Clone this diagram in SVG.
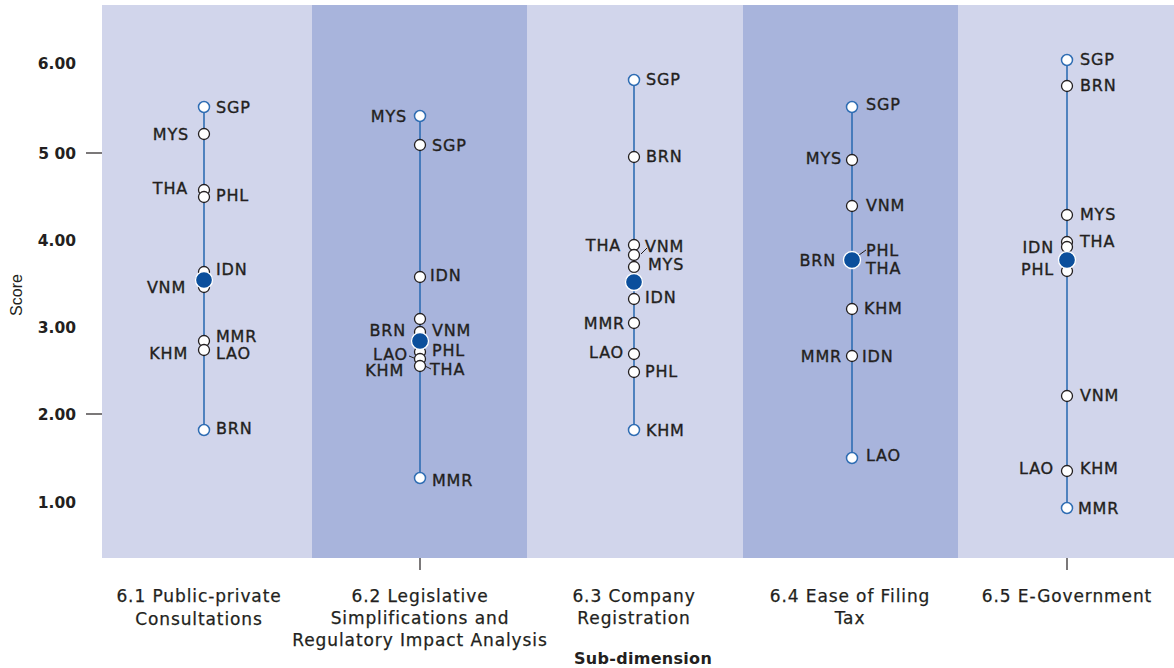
<svg xmlns="http://www.w3.org/2000/svg" width="1174" height="668" viewBox="0 0 1174 668">
<style>
.bgl{fill:#d1d5eb}
.bgd{fill:#a8b4dc}
.ax{font-family:"DejaVu Sans","Liberation Sans",sans-serif;font-size:15.5px;font-weight:700;fill:#231f20}
.lb{font-family:"DejaVu Sans","Liberation Sans",sans-serif;font-size:16px;letter-spacing:0.8px;fill:#231f20;stroke:#231f20;stroke-width:0.35}
.r{text-anchor:end}
.cat{font-family:"DejaVu Sans","Liberation Sans",sans-serif;font-size:17px;letter-spacing:0.9px;fill:#231f20;text-anchor:middle;stroke:#231f20;stroke-width:0.25}
.vl{stroke:#2f6db3;stroke-width:1.6;fill:none}
.pt{fill:#fff;stroke:#231f20;stroke-width:1.3}
.ep{fill:#fff;stroke:#2f6db3;stroke-width:1.5}
.mn{fill:#0b4f9c;stroke:#fff;stroke-width:1.3}
.tk{stroke:#231f20;stroke-width:1.2}
.ld{stroke:#231f20;stroke-width:1;fill:none}
</style>
<rect width="1174" height="668" fill="#fff"/>
<g id="bands">
<rect class="bgl" x="102" y="5" width="210" height="553"/>
<rect class="bgd" x="312" y="5" width="215" height="553"/>
<rect class="bgl" x="527" y="5" width="216" height="553"/>
<rect class="bgd" x="743" y="5" width="215" height="553"/>
<rect class="bgl" x="958" y="5" width="216" height="553"/>
</g>
<g id="axis">
<text class="ax r" x="76" y="69">6.00</text>
<text class="ax r" x="76" y="159">5 00</text>
<text class="ax r" x="76" y="246">4.00</text>
<text class="ax r" x="76" y="333">3.00</text>
<text class="ax r" x="76" y="420">2.00</text>
<text class="ax r" x="76" y="508">1.00</text>
<line class="tk" x1="86" y1="153" x2="102" y2="153"/>
<line class="tk" x1="86" y1="414" x2="102" y2="414"/>
<line class="tk" x1="420" y1="558" x2="420" y2="570"/>
<line class="tk" x1="1067" y1="558" x2="1067" y2="570"/>
<text x="0" y="0" transform="translate(22,295) rotate(-90)" text-anchor="middle" style="font-family:'Liberation Sans',sans-serif;font-size:16px;fill:#231f20">Score</text>
</g>
<g id="connectors">
<line class="vl" x1="204" y1="107" x2="204" y2="430"/>
<line class="vl" x1="420" y1="116" x2="420" y2="478"/>
<line class="vl" x1="634" y1="80" x2="634" y2="430"/>
<line class="vl" x1="852" y1="107" x2="852" y2="458"/>
<line class="vl" x1="1067" y1="60" x2="1067" y2="508"/>
<path class="ld" d="M409 356 L414 358 M425 366 L431 369"/>
<path class="ld" d="M641 254 L647 248"/>
<path class="ld" d="M859 255 L866 250"/>
</g>
<g id="col1">
<circle class="ep" cx="204" cy="107" r="5.5"/>
<circle class="pt" cx="204" cy="134" r="5.5"/>
<circle class="pt" cx="204" cy="190" r="5.5"/>
<circle class="pt" cx="204" cy="197" r="5.5"/>
<circle class="pt" cx="204" cy="272" r="5.5"/>
<circle class="pt" cx="204" cy="287" r="5.5"/>
<circle class="mn" cx="204" cy="280" r="8.5"/>
<circle class="pt" cx="204" cy="341" r="5.5"/>
<circle class="pt" cx="204" cy="350" r="5.5"/>
<circle class="ep" cx="204" cy="430" r="5.5"/>
<text class="lb" x="216" y="113">SGP</text>
<text class="lb r" x="189" y="140">MYS</text>
<text class="lb r" x="188" y="194">THA</text>
<text class="lb" x="216" y="201">PHL</text>
<text class="lb" x="216" y="275">IDN</text>
<text class="lb r" x="186" y="293">VNM</text>
<text class="lb" x="216" y="342">MMR</text>
<text class="lb r" x="188" y="359">KHM</text>
<text class="lb" x="216" y="359">LAO</text>
<text class="lb" x="216" y="434">BRN</text>
</g>
<g id="col2">
<circle class="ep" cx="420" cy="116" r="5.5"/>
<circle class="pt" cx="420" cy="145" r="5.5"/>
<circle class="pt" cx="420" cy="277" r="5.5"/>
<circle class="pt" cx="420" cy="319" r="5.5"/>
<circle class="pt" cx="420" cy="332" r="5.5"/>
<circle class="pt" cx="420" cy="352" r="5.5"/>
<circle class="pt" cx="420" cy="359" r="5.5"/>
<circle class="pt" cx="420" cy="366" r="5.5"/>
<circle class="mn" cx="420" cy="341" r="8.5"/>
<circle class="ep" cx="420" cy="478" r="5.5"/>
<text class="lb r" x="407" y="122">MYS</text>
<text class="lb" x="432" y="151">SGP</text>
<text class="lb" x="430" y="281">IDN</text>
<text class="lb r" x="406" y="336">BRN</text>
<text class="lb" x="432" y="336">VNM</text>
<text class="lb" x="432" y="356">PHL</text>
<text class="lb r" x="408" y="360">LAO</text>
<text class="lb r" x="404" y="376">KHM</text>
<text class="lb" x="430" y="375">THA</text>
<text class="lb" x="432" y="486">MMR</text>
</g>
<g id="col3">
<circle class="ep" cx="634" cy="80" r="5.5"/>
<circle class="pt" cx="634" cy="157" r="5.5"/>
<circle class="pt" cx="634" cy="245" r="5.5"/>
<circle class="pt" cx="634" cy="255" r="5.5"/>
<circle class="pt" cx="634" cy="267" r="5.5"/>
<circle class="mn" cx="634" cy="282" r="8.5"/>
<circle class="pt" cx="634" cy="299" r="5.5"/>
<circle class="pt" cx="634" cy="323" r="5.5"/>
<circle class="pt" cx="634" cy="354" r="5.5"/>
<circle class="pt" cx="634" cy="372" r="5.5"/>
<circle class="ep" cx="634" cy="430" r="5.5"/>
<text class="lb" x="646" y="85">SGP</text>
<text class="lb" x="646" y="162">BRN</text>
<text class="lb r" x="621" y="251">THA</text>
<text class="lb" x="645" y="252">VNM</text>
<text class="lb" x="648" y="270">MYS</text>
<text class="lb" x="645" y="303">IDN</text>
<text class="lb r" x="625" y="329">MMR</text>
<text class="lb r" x="624" y="358">LAO</text>
<text class="lb" x="645" y="377">PHL</text>
<text class="lb" x="646" y="436">KHM</text>
</g>
<g id="col4">
<circle class="ep" cx="852" cy="107" r="5.5"/>
<circle class="pt" cx="852" cy="160" r="5.5"/>
<circle class="pt" cx="852" cy="206" r="5.5"/>
<circle class="mn" cx="852" cy="260" r="8.5"/>
<circle class="pt" cx="852" cy="309" r="5.5"/>
<circle class="pt" cx="852" cy="356" r="5.5"/>
<circle class="ep" cx="852" cy="458" r="5.5"/>
<text class="lb" x="866" y="110">SGP</text>
<text class="lb r" x="842" y="164">MYS</text>
<text class="lb" x="866" y="211">VNM</text>
<text class="lb r" x="836" y="266">BRN</text>
<text class="lb" x="866" y="256">PHL</text>
<text class="lb" x="866" y="274">THA</text>
<text class="lb" x="864" y="314">KHM</text>
<text class="lb r" x="842" y="362">MMR</text>
<text class="lb" x="862" y="362">IDN</text>
<text class="lb" x="866" y="461">LAO</text>
</g>
<g id="col5">
<circle class="ep" cx="1067" cy="60" r="5.5"/>
<circle class="pt" cx="1067" cy="86" r="5.5"/>
<circle class="pt" cx="1067" cy="215" r="5.5"/>
<circle class="pt" cx="1067" cy="242" r="5.5"/>
<circle class="pt" cx="1067" cy="247" r="5.5"/>
<circle class="pt" cx="1067" cy="271" r="5.5"/>
<circle class="mn" cx="1067" cy="260" r="8.5"/>
<circle class="pt" cx="1067" cy="396" r="5.5"/>
<circle class="pt" cx="1067" cy="471" r="5.5"/>
<circle class="ep" cx="1067" cy="508" r="5.5"/>
<text class="lb" x="1080" y="65">SGP</text>
<text class="lb" x="1080" y="91">BRN</text>
<text class="lb" x="1080" y="220">MYS</text>
<text class="lb" x="1080" y="247">THA</text>
<text class="lb r" x="1054" y="253">IDN</text>
<text class="lb r" x="1054" y="275">PHL</text>
<text class="lb" x="1080" y="401">VNM</text>
<text class="lb r" x="1054" y="474">LAO</text>
<text class="lb" x="1080" y="474">KHM</text>
<text class="lb" x="1078" y="514">MMR</text>
</g>
<g id="categories">
<text class="cat" x="199" y="602">6.1 Public-private</text>
<text class="cat" x="199" y="625">Consultations</text>
<text class="cat" x="420" y="602">6.2 Legislative</text>
<text class="cat" x="420" y="624">Simplifications and</text>
<text class="cat" x="420" y="646">Regulatory Impact Analysis</text>
<text class="cat" x="634" y="602">6.3 Company</text>
<text class="cat" x="634" y="624">Registration</text>
<text class="cat" x="850" y="602">6.4 Ease of Filing</text>
<text class="cat" x="850" y="624">Tax</text>
<text class="cat" x="1067" y="602">6.5 E-Government</text>
<text class="cat" x="643" y="664" style="font-weight:700;stroke:none;letter-spacing:0.3px;font-size:16px">Sub-dimension</text>
</g>
</svg>
